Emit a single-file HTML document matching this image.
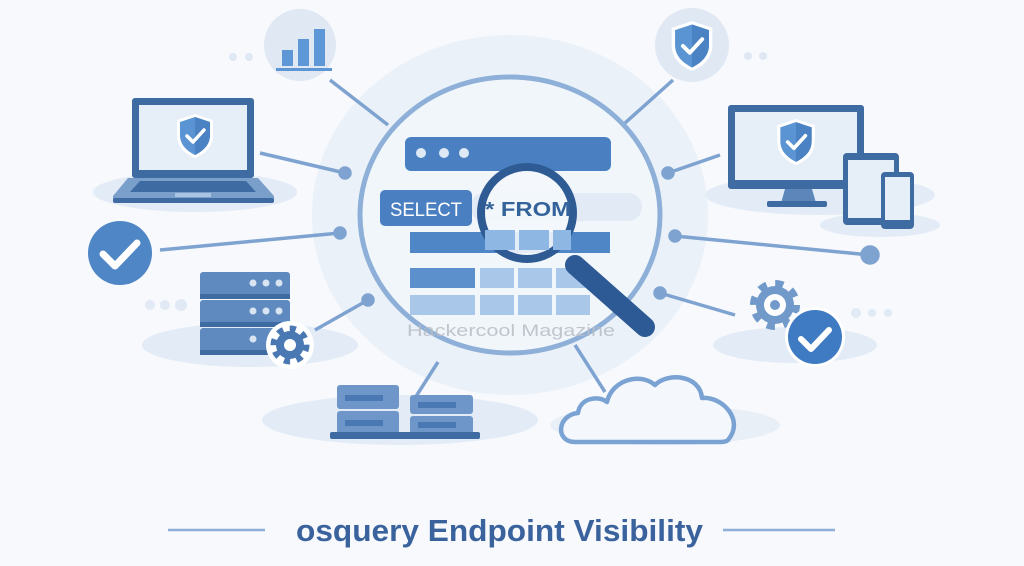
<!DOCTYPE html>
<html><head><meta charset="utf-8"><style>
html,body{margin:0;padding:0;background:#f7f9fc;}
svg{display:block;}
</style></head><body>
<svg width="1024" height="566" viewBox="0 0 1024 566" xmlns="http://www.w3.org/2000/svg" font-family="Liberation Sans, sans-serif">
<defs>
<symbol id="shield" viewBox="0 0 40 46">
<path d="M20 1 L38 7 V22 C38 34 30 41 20 45 C10 41 2 34 2 22 V7 Z" fill="#fff"/>
<path d="M20 4 L35 9 V22 C35 32 28 38 20 42 C12 38 5 32 5 22 V9 Z" fill="#5b94d3"/>
<path d="M20 4 L35 9 V22 C35 32 28 38 20 42 Z" fill="#4a82c4"/>
<path d="M12 23 L18 29 L29 17" stroke="#fff" stroke-width="3.5" fill="none" stroke-linecap="round" stroke-linejoin="round"/>
</symbol>
</defs>
<rect width="1024" height="566" fill="#f7f9fc"/>
<ellipse cx="510" cy="215" rx="198" ry="180" fill="#eaf1f8"/>
<ellipse cx="195" cy="192" rx="102" ry="20" fill="#e3ecf6"/>
<ellipse cx="250" cy="345" rx="108" ry="22" fill="#e3ecf6"/>
<ellipse cx="820" cy="195" rx="115" ry="20" fill="#e3ecf6"/>
<ellipse cx="880" cy="225" rx="60" ry="12" fill="#e3ecf6"/>
<ellipse cx="795" cy="345" rx="82" ry="18" fill="#e3ecf6"/>
<ellipse cx="400" cy="420" rx="138" ry="25" fill="#e3ecf6"/>
<ellipse cx="665" cy="425" rx="115" ry="20" fill="#e8eff7"/>
<g stroke="#7ea3d1" stroke-width="3.5" fill="#7ea3d1">
<line x1="330" y1="80" x2="388" y2="125"/>
<line x1="260" y1="153" x2="345" y2="173"/><circle cx="345" cy="173" r="5"/>
<line x1="160" y1="250" x2="340" y2="233"/><circle cx="340" cy="233" r="5"/>
<line x1="315" y1="330" x2="368" y2="300"/><circle cx="368" cy="300" r="5"/>
<line x1="673" y1="80" x2="625" y2="123"/>
<line x1="720" y1="155" x2="668" y2="173"/><circle cx="668" cy="173" r="5"/>
<line x1="675" y1="236" x2="870" y2="255"/><circle cx="675" cy="236" r="5"/><circle cx="870" cy="255" r="8"/>
<line x1="660" y1="293" x2="735" y2="315"/><circle cx="660" cy="293" r="5"/>
<line x1="438" y1="362" x2="415" y2="398"/>
<line x1="575" y1="345" x2="605" y2="392"/>
</g>
<ellipse cx="510" cy="215" rx="150" ry="138" fill="#f1f6fb" stroke="#8eb0d8" stroke-width="5"/>
<rect x="405" y="137" width="206" height="34" rx="6" fill="#4a80c2"/>
<circle cx="421" cy="153" r="5" fill="#dfe9f6"/><circle cx="444" cy="153" r="5" fill="#dfe9f6"/><circle cx="464" cy="153" r="5" fill="#dfe9f6"/>
<rect x="470" y="193" width="172" height="28" rx="14" fill="#e1eaf5"/>
<rect x="380" y="190" width="92" height="36" rx="5" fill="#4a80c2"/>
<text x="390" y="216" font-size="19" fill="#fff" textLength="72" lengthAdjust="spacingAndGlyphs">SELECT</text>
<rect x="410" y="232" width="200" height="21" fill="#4f86c6"/>
<rect x="410" y="268" width="65" height="20" fill="#5b90cc"/>
<g fill="#a9c7e9">
<rect x="480" y="268" width="34" height="20"/><rect x="518" y="268" width="34" height="20"/><rect x="556" y="268" width="34" height="20"/>
<rect x="410" y="295" width="65" height="20"/><rect x="480" y="295" width="34" height="20"/><rect x="518" y="295" width="34" height="20"/><rect x="556" y="295" width="34" height="20"/>
</g>
<line x1="575" y1="265" x2="645" y2="327" stroke="#2d5a94" stroke-width="20" stroke-linecap="round"/>
<circle cx="527" cy="213" r="46" fill="#f4f8fc" fill-opacity="0.9" stroke="#2f5b94" stroke-width="8"/>
<g fill="#8fb7e4"><rect x="485" y="230" width="30" height="20"/><rect x="519" y="230" width="30" height="20"/><rect x="553" y="230" width="18" height="20"/></g>
<text x="485" y="216" font-size="20" font-weight="bold" fill="#34639c" textLength="86" lengthAdjust="spacingAndGlyphs">* FROM</text>
<text x="407" y="336" font-size="17" fill="#b8bcc4" opacity="0.85" textLength="208" lengthAdjust="spacingAndGlyphs">Hackercool Magazine</text>
<circle cx="300" cy="45" r="36" fill="#dfe8f3"/>
<rect x="282" y="50" width="11" height="16" fill="#5d97d6"/><rect x="298" y="39" width="11" height="27" fill="#5d97d6"/><rect x="314" y="29" width="11" height="37" fill="#5d97d6"/>
<rect x="276" y="68" width="56" height="3" fill="#5d97d6"/>
<circle cx="233" cy="57" r="4" fill="#dfe8f3"/><circle cx="249" cy="57" r="4" fill="#dfe8f3"/>
<circle cx="692" cy="45" r="37" fill="#dfe8f3"/>
<use href="#shield" x="669" y="20" width="46" height="52"/>
<circle cx="748" cy="56" r="4" fill="#dfe8f3"/><circle cx="763" cy="56" r="4" fill="#dfe8f3"/>
<rect x="132" y="98" width="122" height="80" rx="3" fill="#3f6ba3"/>
<rect x="139" y="105" width="108" height="65" fill="#e6eef8"/>
<use href="#shield" x="175" y="113" width="40" height="46"/>
<path d="M128 178 H258 L274 196 V200 H113 V196 Z" fill="#7a9fcb"/>
<path d="M140 181 H246 L256 192 H130 Z" fill="#3f6ba3"/>
<rect x="175" y="193" width="36" height="4" fill="#a9c4e4"/>
<rect x="113" y="198" width="161" height="5" rx="2" fill="#3f6ba3"/>
<circle cx="120" cy="253" r="32" fill="#4f86c6"/>
<path d="M103 254 L115 266 L137 243" stroke="#fff" stroke-width="7" fill="none" stroke-linecap="round" stroke-linejoin="round"/>
<g fill="#5f8ac0">
<rect x="200" y="272" width="90" height="24" rx="3"/><rect x="200" y="300" width="90" height="24" rx="3"/><rect x="200" y="328" width="90" height="24" rx="3"/>
</g>
<g fill="#3f6ba3"><rect x="200" y="294" width="90" height="5"/><rect x="200" y="322" width="90" height="5"/><rect x="200" y="350" width="90" height="5"/></g>
<g fill="#d9e4f2">
<circle cx="253" cy="283" r="3.5"/><circle cx="266" cy="283" r="3.5"/><circle cx="279" cy="283" r="3.5"/>
<circle cx="253" cy="311" r="3.5"/><circle cx="266" cy="311" r="3.5"/><circle cx="279" cy="311" r="3.5"/>
<circle cx="253" cy="339" r="3.5"/>
</g>
<circle cx="150" cy="305" r="5" fill="#e1e9f4"/><circle cx="165" cy="305" r="5" fill="#e1e9f4"/><circle cx="181" cy="305" r="6" fill="#e1e9f4"/>
<circle cx="290" cy="345" r="24" fill="#fff"/>
<circle cx="290" cy="345" r="16" fill="none" stroke="#4a78b3" stroke-width="7" stroke-dasharray="6 6.5"/>
<circle cx="290" cy="345" r="14" fill="#4a78b3"/><circle cx="290" cy="345" r="6" fill="#fff"/>
<rect x="728" y="105" width="136" height="84" rx="3" fill="#3f6ba3"/>
<rect x="735" y="112" width="122" height="68" fill="#e6eef8"/>
<use href="#shield" x="775" y="118" width="42" height="48"/>
<path d="M785 189 H812 L816 203 H781 Z" fill="#5d86ba"/>
<rect x="767" y="201" width="60" height="6" rx="2" fill="#3f6ba3"/>
<rect x="843" y="153" width="56" height="72" rx="4" fill="#3f6ba3"/>
<rect x="848" y="160" width="46" height="58" fill="#e6eef8"/>
<rect x="881" y="172" width="33" height="57" rx="4" fill="#3f6ba3"/>
<rect x="885" y="177" width="25" height="43" fill="#e6eef8"/>
<circle cx="775" cy="305" r="21" fill="none" stroke="#7199c9" stroke-width="8" stroke-dasharray="8 8.5"/>
<circle cx="775" cy="305" r="19" fill="#7199c9"/>
<circle cx="775" cy="305" r="11" fill="#fff"/><circle cx="775" cy="305" r="5" fill="#7199c9"/>
<circle cx="815" cy="337" r="30" fill="#fff"/>
<circle cx="815" cy="337" r="27" fill="#3f7bc2"/>
<path d="M801 339 L811 349 L829 330" stroke="#fff" stroke-width="6" fill="none" stroke-linecap="round" stroke-linejoin="round"/>
<circle cx="856" cy="313" r="5" fill="#e1e9f4"/><circle cx="872" cy="313" r="4" fill="#e1e9f4"/><circle cx="888" cy="313" r="4" fill="#e1e9f4"/>
<g fill="#6f96c8">
<rect x="337" y="385" width="62" height="24" rx="3"/><rect x="337" y="411" width="62" height="23" rx="3"/>
<rect x="410" y="395" width="63" height="19" rx="3"/><rect x="410" y="416" width="63" height="18" rx="3"/>
</g>
<g fill="#4a78b3"><rect x="345" y="395" width="38" height="6"/><rect x="345" y="420" width="38" height="6"/><rect x="418" y="402" width="38" height="6"/><rect x="418" y="422" width="38" height="6"/></g>
<rect x="330" y="432" width="150" height="7" rx="2" fill="#3f6ba3"/>
<path d="M575 442 C555 442 557 415 578 413 C580 398 598 395 607 402 C612 380 640 372 655 385 C668 372 700 375 702 398 C722 396 745 420 728 440 Q726 442 720 442 Z" fill="#f4f8fc" stroke="#7aa3d4" stroke-width="4.5" stroke-linejoin="round"/>
<line x1="168" y1="530" x2="265" y2="530" stroke="#8eb0d8" stroke-width="2.5"/>
<line x1="723" y1="530" x2="835" y2="530" stroke="#8eb0d8" stroke-width="2.5"/>
<text x="296" y="541" font-size="31" font-weight="bold" fill="#3a629c" textLength="407" lengthAdjust="spacingAndGlyphs">osquery Endpoint Visibility</text>
</svg>
</body></html>
